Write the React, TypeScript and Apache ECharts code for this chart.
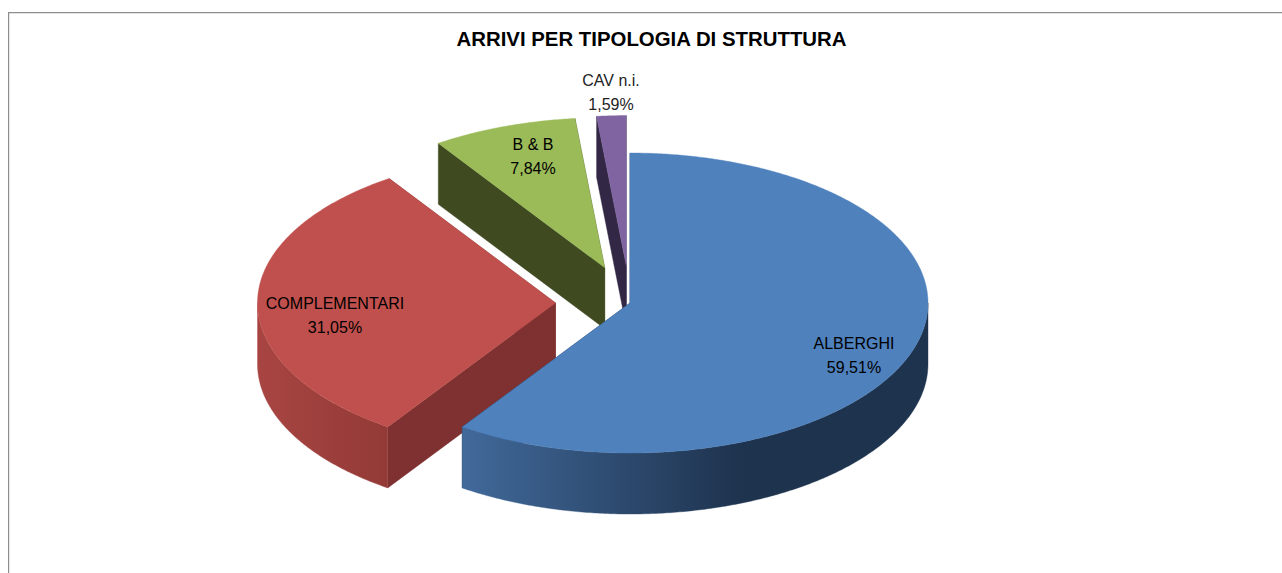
import React, { useEffect, useRef } from "react";
import * as echarts from "echarts";

const titleText = "ARRIVI PER TIPOLOGIA DI STRUTTURA";
const categories = ["ALBERGHI", "COMPLEMENTARI", "B & B", "CAV n.i."];
const values = [59.51, 31.05, 7.84, 1.59];
const explosions = [0, 0.25, 0.25, 0.25];

const topColors = ["#4f81bd", "#c0504d", "#9bbb59", "#8064a2"];
const cutColors = ["#1f334f", "#7e3130", "#3f4a21", "#322845"];
const labelColors = ["#000000", "#000000", "#000000", "#222222"];
const labelAnchors = [
  [854, 355],
  [335, 315],
  [533, 156],
  [611, 92],
];
const paintOrder = [2, 3, 1, 0];

const CX = 630;
const CY = 303;
const RX = 298;
const RY = 150;
const DEPTH = 61;

const total = values.reduce((a, b) => a + b, 0);
const rad = (d: number) => (d * Math.PI) / 180;

const sideFills: any[] = [
  {
    type: "linear", x: 462, y: 0, x2: 740, y2: 0, global: true,
    colorStops: [{ offset: 0, color: "#41699a" }, { offset: 1, color: "#1e334e" }],
  },
  {
    type: "linear", x: 257, y: 0, x2: 387, y2: 0, global: true,
    colorStops: [{ offset: 0, color: "#a84542" }, { offset: 1, color: "#933a37" }],
  },
  "#3f4a21",
  "#322845",
];

function sliceAngles(i: number) {
  let sum = 0;
  for (let k = 0; k < i; k++) sum += values[k];
  const a0 = (sum / total) * 360;
  const a1 = ((sum + values[i]) / total) * 360;
  return [a0, a1];
}

function arc(cx: number, cy: number, a0: number, a1: number) {
  const pts: number[][] = [];
  const n = Math.max(2, Math.ceil((a1 - a0) * 2));
  for (let k = 0; k <= n; k++) {
    const a = rad(a0 + ((a1 - a0) * k) / n);
    pts.push([cx + RX * Math.sin(a), cy - RY * Math.cos(a)]);
  }
  return pts;
}

function renderSlice(params: any) {
  const i = paintOrder[params.dataIndex];
  const [a0, a1] = sliceAngles(i);
  const mid = rad((a0 + a1) / 2);
  const cx = CX + explosions[i] * RX * Math.sin(mid);
  const cy = CY - explosions[i] * RY * Math.cos(mid);
  const children: any[] = [];

  const face = (angle: number) => {
    const p = arc(cx, cy, angle, angle + 0.001)[0];
    return [[cx, cy], p, [p[0], p[1] + DEPTH], [cx, cy + DEPTH]];
  };
  const poly = (points: number[][], fill: any) => ({
    type: "polygon",
    shape: { points },
    style: { fill, stroke: fill, lineWidth: 0.4 },
    silent: true,
  });

  children.push(poly(face(a1), cutColors[i]));
  children.push(poly(face(a0), cutColors[i]));

  const s0 = Math.max(a0, 90);
  const s1 = Math.min(a1, 270);
  if (s1 > s0) {
    const upper = arc(cx, cy, s0, s1);
    const lower = upper.map((p) => [p[0], p[1] + DEPTH]).reverse();
    children.push(poly(upper.concat(lower), sideFills[i]));
  }

  children.push(poly([[cx, cy], ...arc(cx, cy, a0, a1)], topColors[i]));

  children.push({
    type: "text",
    silent: true,
    style: {
      x: labelAnchors[i][0],
      y: labelAnchors[i][1],
      text: `${categories[i]}\n${values[i].toFixed(2).replace(".", ",")}%`,
      fill: labelColors[i],
      font: '16px "Liberation Sans", Arial, sans-serif',
      lineHeight: 24,
      align: "center",
      verticalAlign: "middle",
    },
  });

  return { type: "group", children };
}

export default function App() {
  const ref = useRef<HTMLDivElement>(null);
  useEffect(() => {
    document.body.style.margin = "0";
    const chart = echarts.init(ref.current!, undefined, { renderer: "svg" });
    chart.setOption({
      animation: false,
      backgroundColor: "#ffffff",
      title: {
        text: titleText,
        left: 646.5,
        top: 24,
        textAlign: "center",
        textStyle: {
          fontFamily: '"Liberation Sans", Arial, sans-serif',
          fontSize: 20.4,
          fontWeight: "bold",
          color: "#000000",
        },
      },
      graphic: [
        { type: "rect", silent: true, shape: { x: 8, y: 12, width: 1274, height: 1.2 }, style: { fill: "#8e8e8e" } },
        { type: "rect", silent: true, shape: { x: 8, y: 12, width: 1.2, height: 561 }, style: { fill: "#8e8e8e" } },
      ],
      series: [
        {
          type: "custom",
          coordinateSystem: "none",
          silent: true,
          renderItem: renderSlice,
          data: paintOrder.map((i) => ({ name: categories[i], value: values[i] })),
        },
      ],
    });
    return () => chart.dispose();
  }, []);
  return <div ref={ref} style={{ width: 1282, height: 573 }} />;
}
